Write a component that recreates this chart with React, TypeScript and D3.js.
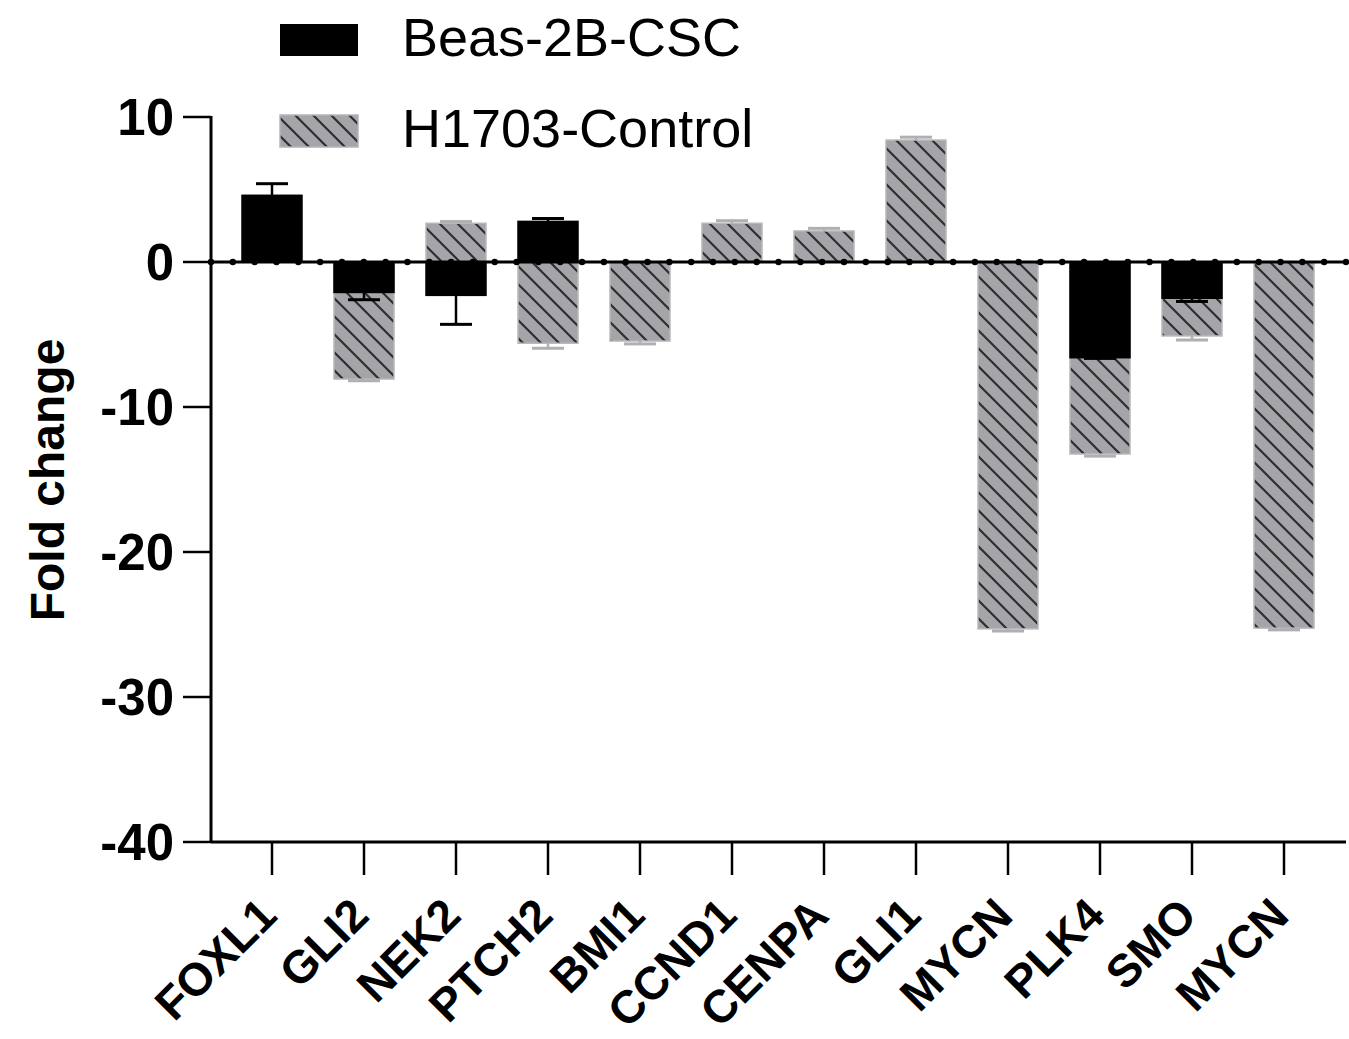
import React from "react";
import * as d3 from "d3";

const categories = ["FOXL1", "GLI2", "NEK2", "PTCH2", "BMI1", "CCND1", "CENPA", "GLI1", "MYCN", "PLK4", "SMO", "MYCN"];
const beasValues = [4.6, -2.1, -2.3, 2.8, 0, 0, 0, 0, 0, -6.6, -2.5, 0];
const beasErrors = [0.8, 0.5, 2.0, 0.2, 0, 0, 0, 0, 0, 0.05, 0.22, 0];
const h1703Values = [0, -8.07, 2.67, -5.6, -5.45, 2.67, 2.14, 8.41, -25.3, -13.24, -5.1, -25.25];
const h1703Errors = [0, 0.12, 0.12, 0.35, 0.2, 0.18, 0.18, 0.2, 0.15, 0.15, 0.28, 0.12];
const yTicks = [10, 0, -10, -20, -30, -40];
const seriesNames = ["Beas-2B-CSC", "H1703-Control"];

const FONT = "'Liberation Sans', Arial, Helvetica, sans-serif";
const GRAY = "#a5a5a9";

export default function App() {
  const W = 1349, H = 1039;
  const axisLeft = 211, axisRight = 1346;
  const idx = categories.map((_, i) => String(i));
  const x = d3.scaleBand<string>().domain(idx).range([226, 1330]).paddingInner(0.348).paddingOuter(0.174);
  const y = d3.scaleLinear().domain([-40, 10]).range([842, 117]);
  const bw = x.bandwidth();
  const y0 = y(0);
  const dotStep = (axisRight - axisLeft) / 52;
  const dots = d3.range(0, 53).map((k) => axisLeft + k * dotStep);

  const bar = (v: number, i: number, fill: string, stroke: string, key: string) => {
    if (!v) return null;
    const xi = x(String(i))!;
    const top = Math.min(y(v), y0);
    const h = Math.abs(y(v) - y0);
    return <rect key={key} x={xi} y={top} width={bw} height={h} fill={fill} stroke={stroke} strokeWidth={1.5} />;
  };
  const err = (v: number, e: number, i: number, color: string, key: string) => {
    if (!v || !e) return null;
    const cx = x(String(i))! + bw / 2;
    const yEnd = y(v + Math.sign(v) * e);
    return (
      <g key={key} stroke={color} strokeWidth={2.5}>
        <line x1={cx} x2={cx} y1={y(v)} y2={yEnd} />
        <line x1={cx - 16} x2={cx + 16} y1={yEnd} y2={yEnd} strokeWidth={3} />
      </g>
    );
  };

  return (
    <svg width={W} height={H} style={{ position: "absolute", left: 0, top: 0, background: "#fff" }} fontFamily={FONT}>
      <defs>
        <pattern id="hatch" patternUnits="userSpaceOnUse" width={18} height={18}>
          <rect width={18} height={18} fill={GRAY} />
          <path d="M-4.5,-4.5 L22.5,22.5 M-4.5,13.5 L4.5,22.5 M13.5,-4.5 L22.5,4.5" stroke="#2e2e30" strokeWidth={2.2} />
        </pattern>
      </defs>

      {/* legend */}
      <rect x={280} y={24} width={78} height={32} fill="#000" />
      <rect x={280} y={115} width={78} height={32} fill="url(#hatch)" stroke="#b5b5b8" strokeWidth={1.5} />
      <text x={402} y={56} fontSize={54}>{seriesNames[0]}</text>
      <text x={402} y={147} fontSize={54}>{seriesNames[1]}</text>

      {/* gray bars */}
      {h1703Values.map((v, i) => bar(v, i, "url(#hatch)", "#b8b8bb", "g" + i))}
      {h1703Values.map((v, i) => err(v, h1703Errors[i], i, "#b0b0b3", "ge" + i))}
      {/* black bars */}
      {beasValues.map((v, i) => bar(v, i, "#000", "#000", "b" + i))}
      {beasValues.map((v, i) => err(v, beasErrors[i], i, "#000", "be" + i))}

      {/* zero line with dots */}
      <line x1={axisLeft} x2={axisRight} y1={y0} y2={y0} stroke="#000" strokeWidth={3} />
      {dots.map((dx, k) => <circle key={"d" + k} cx={dx} cy={y0} r={3.2} fill="#000" />)}

      {/* y axis */}
      <line x1={axisLeft} x2={axisLeft} y1={y(10) - 1} y2={y(-40) + 1} stroke="#000" strokeWidth={3} />
      {yTicks.map((t) => (
        <g key={"yt" + t}>
          <line x1={183} x2={axisLeft} y1={y(t)} y2={y(t)} stroke="#000" strokeWidth={2.5} />
          <text x={174} y={y(t)} dy="0.36em" textAnchor="end" fontSize={51} fontWeight="bold">{t}</text>
        </g>
      ))}
      <text transform={`translate(64,480) rotate(-90)`} textAnchor="middle" fontSize={48} fontWeight="bold">Fold change</text>

      {/* x axis */}
      <line x1={axisLeft} x2={axisRight} y1={y(-40)} y2={y(-40)} stroke="#000" strokeWidth={3} />
      {categories.map((c, i) => {
        const cx = x(String(i))! + bw / 2;
        return (
          <g key={"xt" + i}>
            <line x1={cx} x2={cx} y1={y(-40)} y2={y(-40) + 33} stroke="#000" strokeWidth={2.5} />
            <text transform={`translate(${cx + 7},918) rotate(-45)`} textAnchor="end" fontSize={46} fontWeight="bold">{c}</text>
          </g>
        );
      })}
    </svg>
  );
}
